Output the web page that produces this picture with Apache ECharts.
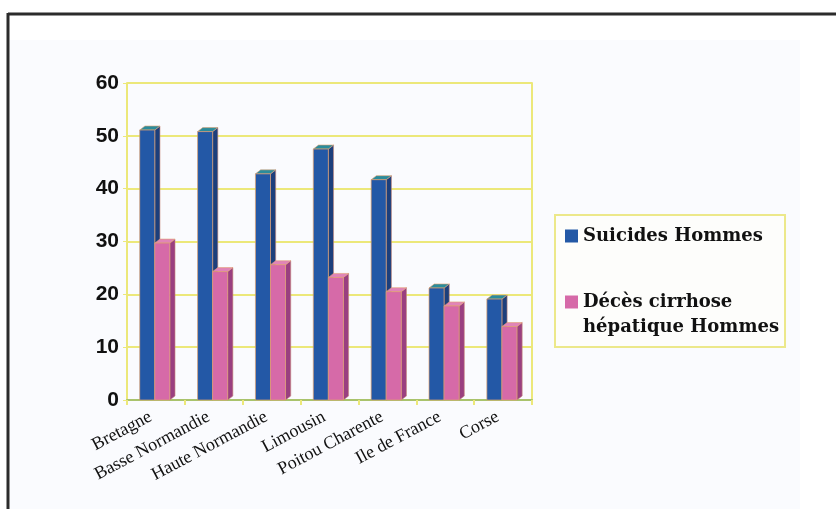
<!DOCTYPE html>
<html><head><meta charset="utf-8">
<script src="https://cdn.jsdelivr.net/npm/echarts@6/dist/echarts.min.js"></script>
<style>html,body{margin:0;padding:0;background:#fff}#c{width:836px;height:509px}</style>
</head><body><div id="c"></div>
<script>
const categories = ['Bretagne','Basse Normandie','Haute Normandie','Limousin','Poitou Charente','Ile de France','Corse'];
const suicides = [51.1, 50.8, 42.8, 47.5, 41.7, 21.2, 19.1];
const cirrhose = [29.7, 24.3, 25.6, 23.2, 20.5, 17.8, 13.9];
const yTicks = [0, 10, 20, 30, 40, 50, 60];
const seriesNames = ['Suicides Hommes', 'Décès cirrhose hépatique Hommes'];
const legendLines = { 'Décès cirrhose hépatique Hommes': ['Décès cirrhose', 'hépatique Hommes'] };

const chart = echarts.init(document.getElementById('c'));

function make3D(offsetFrac, front, side, topc) {
  return function (params, api) {
    const cat = api.value(0), val = api.value(1);
    const base = api.coord([cat, 0]);
    const top = api.coord([cat, val]);
    const W = api.size([1, 0])[0];
    const bw = W * 0.26;
    const x0 = base[0] + W * offsetFrac;
    const x1 = x0 + bw;
    const dx = W * 0.09, dy = 4;
    const yT = top[1], yB = base[1];
    return {
      type: 'group',
      children: [
        { type: 'polygon', shape: { points: [[x1, yT], [x1 + dx, yT - dy], [x1 + dx, yB - dy], [x1, yB]] },
          style: { fill: side, stroke: '#c98a7a', lineWidth: 0.6 } },
        { type: 'polygon', shape: { points: [[x0, yT], [x0 + dx, yT - dy], [x1 + dx, yT - dy], [x1, yT]] },
          style: { fill: topc, stroke: '#e0a070', lineWidth: 0.6 } },
        { type: 'rect', shape: { x: x0, y: yT, width: bw, height: yB - yT },
          style: { fill: front, stroke: '#e0a070', lineWidth: 0.7 } }
      ]
    };
  };
}

chart.setOption({
  animation: false,
  backgroundColor: '#ffffff',
  graphic: [
    { type: 'rect', z: -10, shape: { x: 10, y: 40, width: 790, height: 470 }, style: { fill: '#fafbfe' } },
    { type: 'line', z: -5, shape: { x1: 8, y1: 14, x2: 836, y2: 14 }, style: { stroke: '#2b2b2b', lineWidth: 3 } },
    { type: 'line', z: -5, shape: { x1: 8, y1: 13, x2: 8, y2: 509 }, style: { stroke: '#2b2b2b', lineWidth: 3 } }
  ],
  grid: { left: 127, right: 304, top: 83, bottom: 109 },
  legend: {
    orient: 'vertical',
    left: 555, top: 215,
    padding: [12, 6, 11, 10],
    itemGap: 27,
    itemWidth: 13, itemHeight: 13,
    icon: 'rect',
    borderColor: '#ece88a', borderWidth: 2,
    backgroundColor: '#fdfdfb',
    formatter: function (name) {
      const lines = legendLines[name];
      if (!lines) return '{t|' + name + '}';
      return '{e| }\n{t|' + lines[0] + '}\n{t|' + lines[1] + '}';
    },
    textStyle: {
      rich: {
        t: { fontFamily: 'DejaVu Serif', fontWeight: 'bold', fontSize: 18, lineHeight: 25, color: '#111' },
        e: { fontSize: 10, lineHeight: 25 }
      }
    },
    data: seriesNames
  },
  xAxis: {
    type: 'category',
    data: categories,
    boundaryGap: true,
    axisLine: { lineStyle: { color: '#a9c36c', width: 2 } },
    axisTick: { show: true, length: 5, lineStyle: { color: '#ece87a', width: 2 } },
    axisLabel: { rotate: 28, margin: 13, interval: 0, fontFamily: 'Liberation Serif', fontSize: 18, color: '#111', padding: [0, 6, 0, 0] },
    splitLine: { show: false }
  },
  yAxis: [{
    type: 'value', min: 0, max: 60, interval: 10,
    axisLine: { show: true, lineStyle: { color: '#ece87a', width: 2 } },
    axisTick: { show: true, length: 4, lineStyle: { color: '#ece87a' } },
    axisLabel: { fontFamily: 'Liberation Sans', fontWeight: 'bold', fontSize: 21, color: '#111', margin: 8,
      formatter: function (v) { return yTicks.indexOf(v) >= 0 ? String(v) : ''; } },
    splitLine: { show: true, lineStyle: { color: '#ece87a', width: 2 } }
  }, {
    type: 'value', min: 0, max: 60, interval: 10, position: 'right',
    axisLine: { show: true, lineStyle: { color: '#ece87a', width: 2 } },
    axisTick: { show: false }, axisLabel: { show: false }, splitLine: { show: false }
  }],
  series: [
    { name: seriesNames[0], type: 'custom', color: '#2358a6',
      renderItem: make3D(-0.28, '#2358a6', '#1c3f7c', '#2a8c9c'),
      encode: { x: 0, y: 1 },
      data: suicides.map((v, i) => [i, v]) },
    { name: seriesNames[1], type: 'custom', color: '#d66aa8',
      renderItem: make3D(-0.02, '#d66aa8', '#9a3f80', '#e184b8'),
      encode: { x: 0, y: 1 },
      data: cirrhose.map((v, i) => [i, v]) }
  ]
});
</script></body></html>
